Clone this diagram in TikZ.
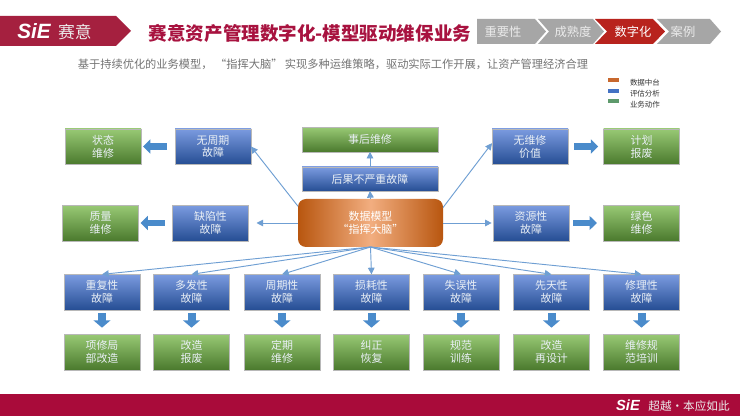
\documentclass[tikz,border=0pt]{standalone}
\usepackage{fontspec}
\setmainfont{Noto Sans CJK SC}
\newfontfamily\logofont{Liberation Sans}
\usetikzlibrary{arrows.meta}
\definecolor{brandred}{HTML}{A90B3A}
\definecolor{logored}{HTML}{A5203F}
\definecolor{titlered}{HTML}{A8123F}
\definecolor{crumbgray}{HTML}{A6A6A6}
\definecolor{crumbred}{HTML}{B8231D}
\definecolor{linkblue}{HTML}{6F9FD3}
\definecolor{blockblue}{HTML}{4A8BCB}
\definecolor{boxtext}{HTML}{E9EFF5}
\definecolor{bluetop}{HTML}{7B9BE0}
\definecolor{bluebot}{HTML}{264E94}
\definecolor{greentop}{HTML}{98C974}
\definecolor{greenbot}{HTML}{4B7A2E}
\definecolor{hubedge}{HTML}{B8560F}
\definecolor{hubmid}{HTML}{F2AE80}
\definecolor{legorange}{HTML}{C8682E}
\definecolor{legblue}{HTML}{4472C4}
\definecolor{leggreen}{HTML}{5E9A6C}
\tikzset{
  x=0.75pt,y=-0.75pt,
  every node/.style={inner sep=0pt,outer sep=0pt},
  boxfont/.style={font=\fontsize{8.2}{9.6}\selectfont,align=center,text=boxtext},
  bluebox/.style={boxfont,rectangle,draw=white!72!black,line width=0.2pt,top color=bluetop,bottom color=bluebot,minimum height=26.5pt},
  greenbox/.style={boxfont,rectangle,draw=white!72!black,line width=0.2pt,top color=greentop,bottom color=greenbot,minimum height=26.5pt},
  wide/.style={minimum width=57pt},
  link/.style={draw=linkblue,line width=0.7pt,-{Triangle[length=5pt,width=5pt]}},
  block/.style={draw=blockblue,line width=6pt,-{Triangle[length=5.5pt,width=12.5pt]}},
  hblock/.style={draw=blockblue,line width=5.2pt,-{Triangle[length=5.5pt,width=10.5pt]}},
  crumb/.style={fill=crumbgray,draw=none},
  crumbtext/.style={font=\fontsize{9.2}{10}\selectfont,text=white!92!black},
  legendswatch/.style={minimum width=8.5pt,minimum height=3pt},
  legendtext/.style={font=\fontsize{5.6}{6}\selectfont,text=black!80,anchor=west},
}
\begin{document}
\begin{tikzpicture}
\useasboundingbox (0,0) rectangle (740,416);
\fill[white] (0,0) rectangle (740,416);
% header logo
\fill[logored] (0,16) -- (116,16) -- (131,31) -- (116,46) -- (0,46) -- cycle;
\node (logosie) at (34,31.5) {\logofont\bfseries\itshape\fontsize{15.5}{15}\selectfont\textcolor{white}{SiE}};
\node (logocn) at (75,32) {\fontsize{12.6}{13}\selectfont\textcolor{white!92!black}{赛意}};
\node[text=titlered] (title) at (310,33) {\fontsize{13.9}{15}\selectfont\bfseries 赛意资产管理数字化-模型驱动维保业务};
\node[text=black!55] (subtitle) at (333,64) {\fontsize{8.42}{10}\selectfont 基于持续优化的业务模型， “指挥大脑” 实现多种运维策略，驱动实际工作开展，让资产管理经济合理};
% breadcrumbs
\fill[crumb] (477,19) -- (535,19) -- (546,31.5) -- (535,44) -- (477,44) -- cycle;
\fill[crumb] (538,19) -- (593,19) -- (604,31.5) -- (593,44) -- (538,44) -- (549,31.5) -- cycle;
\fill[crumbred] (595,19) -- (653,19) -- (665,31.5) -- (653,44) -- (595,44) -- (607,31.5) -- cycle;
\fill[crumb] (657,19) -- (710,19) -- (721,31.5) -- (710,44) -- (657,44) -- (669,31.5) -- cycle;
\node[crumbtext] (c1) at (503,32) {重要性};
\node[crumbtext] (c2) at (573,32) {成熟度};
\node[crumbtext,text=white] (c3) at (633,32) {数字化};
\node[crumbtext] (c4) at (683,32) {案例};
% legend
\node[legendswatch,fill=legorange] (l1) at (613.5,80.5) {};
\node[legendswatch,fill=legblue] (l2) at (613.5,91) {};
\node[legendswatch,fill=leggreen] (l3) at (613.5,101.5) {};
\node[legendtext] (t1) at (630,82.5) {数据中台};
\node[legendtext] (t2) at (630,93.5) {评估分析};
\node[legendtext] (t3) at (630,105) {业务动作};
% centre
\node[rectangle,rounded corners=6pt,minimum width=108.75pt,minimum height=36pt,left color=hubedge,right color=hubedge,middle color=hubmid,boxfont,text=white] (hub) at (370.5,223) {数据模型\\“指挥大脑”};
% top column
\node[greenbox,minimum width=102pt,minimum height=18.5pt] (after) at (370,139.5) {事后维修};
\node[bluebox,minimum width=102pt,minimum height=18pt] (minor) at (370,179) {后果不严重故障};
% left side
\node[greenbox,wide] (state) at (103,146.5) {状态\\维修};
\node[bluebox,wide] (nocycle) at (213,146.5) {无周期\\故障};
\node[greenbox,wide] (quality) at (100.5,223) {质量\\维修};
\node[bluebox,wide] (defect) at (210.5,223) {缺陷性\\故障};
% right side
\node[bluebox,wide] (noval) at (530,146.5) {无维修\\价值};
\node[greenbox,wide] (scrap) at (641.5,146.5) {计划\\报废};
\node[bluebox,wide] (resource) at (531,223) {资源性\\故障};
\node[greenbox,wide] (greenm) at (641.5,223) {绿色\\维修};
% bottom rows
\node[bluebox,wide] (b1) at (102,292) {重复性\\故障};
\node[bluebox,wide] (b2) at (191.5,292) {多发性\\故障};
\node[bluebox,wide] (b3) at (282,292) {周期性\\故障};
\node[bluebox,wide] (b4) at (371.5,292) {损耗性\\故障};
\node[bluebox,wide] (b5) at (461,292) {失误性\\故障};
\node[bluebox,wide] (b6) at (551.5,292) {先天性\\故障};
\node[bluebox,wide] (b7) at (641.5,292) {修理性\\故障};
\node[greenbox,wide] (g1) at (102,352) {项修局\\部改造};
\node[greenbox,wide] (g2) at (191.5,352) {改造\\报废};
\node[greenbox,wide] (g3) at (282,352) {定期\\维修};
\node[greenbox,wide] (g4) at (371.5,352) {纠正\\恢复};
\node[greenbox,wide] (g5) at (461,352) {规范\\训练};
\node[greenbox,wide] (g6) at (551.5,352) {改造\\再设计};
\node[greenbox,wide] (g7) at (641.5,352) {维修规\\范培训};
% thin connectors
\draw[link] (hub.north) -- (minor.south);
\draw[link] (minor.north) -- (after.south);
\draw[link] (hub.167.6) -- (nocycle.east);
\draw[link] (hub.12.4) -- (noval.175);
\draw[link,shorten >=6pt] (hub.west) -- (defect.east);
\draw[link,shorten >=1pt] (hub.east) -- (resource.west);
\foreach \n in {b1,b2,b3,b4,b5,b6,b7}
  \draw[link] (hub.south) -- (\n.north);
% block connectors
\draw[hblock,shorten <=6pt,shorten >=1.5pt] (nocycle.west) -- (state.east);
\draw[hblock,shorten <=6pt,shorten >=1.5pt] (defect.west) -- (quality.east);
\draw[hblock,shorten <=4.5pt,shorten >=4pt] (noval.east) -- (scrap.west);
\draw[hblock,shorten <=3pt,shorten >=5pt] (resource.east) -- (greenm.west);
\foreach \i in {1,...,7}
  \draw[block,shorten <=2.5pt,shorten >=5pt] (b\i.south) -- (g\i.north);
% footer
\fill[brandred] (0,394) rectangle (740,416);
\node (footsie) at (628,405) {\logofont\bfseries\itshape\fontsize{11}{11}\selectfont\textcolor{white}{SiE}};
\node (footcn) at (689,406) {\fontsize{8.7}{10}\selectfont\textcolor{white!92!black}{超越·本应如此}};
\end{tikzpicture}
\end{document}
